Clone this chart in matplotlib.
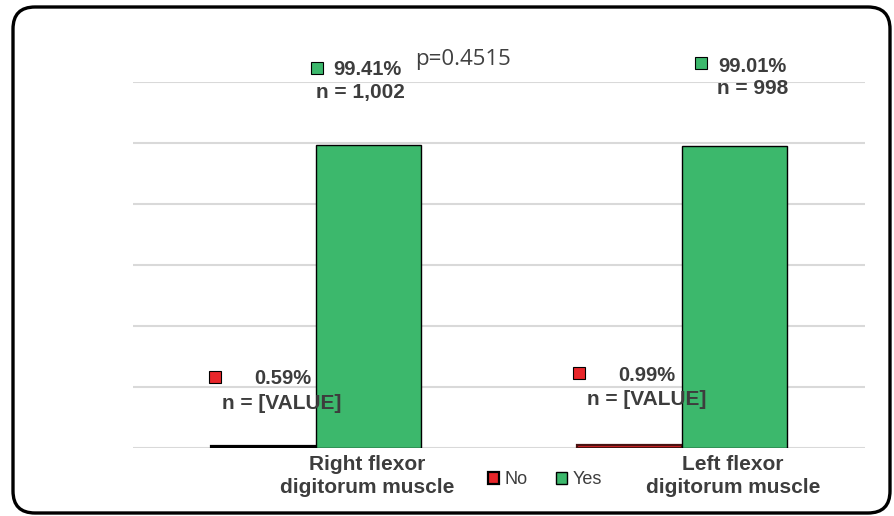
import matplotlib
matplotlib.use('Agg')
import numpy as np
import matplotlib.pyplot as plt
from matplotlib.patches import FancyBboxPatch
from matplotlib.transforms import IdentityTransform, offset_copy

categories = ['Right flexor\ndigitorum muscle', 'Left flexor\ndigitorum muscle']
no_pct = [0.59, 0.99]
yes_pct = [99.41, 99.01]
no_n = ['[VALUE]', '[VALUE]']
yes_n = ['1,002', '998']
p_text = 'p=0.4515'

# label offsets in pixels from bar centre/top: (marker dx, dy, text dx, dy, n dx, dy)
no_offsets = [(-48, 69, 19, 68, 18, 43), (-50, 72, 17, 69, 17, 45)]
yes_offsets = [(-52, 77, -1, 75, -8, 52), (-34, 83, 18, 80, 18, 58)]

red = '#e8262a'
green = '#3cb86c'
txt = '#3d3d3d'

fig = plt.figure(figsize=(8.95, 5.16), dpi=100)
ax = fig.add_axes([133 / 895, 68 / 516, 732 / 895, 366 / 516])

x = np.arange(len(categories))
w = 0.287
bars_no = ax.bar(x - w / 2, no_pct, w, color=red, edgecolor=['black', '#4a1212'],
                 linewidth=1.6, label='No', zorder=3)
bars_yes = ax.bar(x + w / 2, yes_pct, w, color=green, edgecolor='black',
                  linewidth=1.0, label='Yes', zorder=3)

ax.set_xlim(-0.5, 1.5)
ax.set_ylim(0, 120)
ax.set_yticks(np.arange(0, 121, 20))
ax.yaxis.grid(True, color='#d9d9d9', linewidth=1.5)
ax.set_axisbelow(True)
ax.tick_params(axis='y', length=0, labelleft=False)
for s in ax.spines.values():
    s.set_visible(False)
ax.set_xticks(x + w / 2 - 0.005)
ax.set_xticklabels(categories, fontsize=15, fontweight='bold', color=txt,
                   family='Liberation Sans', linespacing=1.25)
ax.tick_params(axis='x', length=0, pad=5)


def label(xc, h, color, pct, n, off):
    mdx, mdy, tdx, tdy, ndx, ndy = off
    tr = offset_copy(ax.transData, fig=fig, x=mdx, y=mdy, units='dots')
    ax.plot([xc], [h], marker='s', markersize=8, color=color,
            markeredgecolor='black', markeredgewidth=0.8, transform=tr,
            clip_on=False, zorder=5)
    ax.annotate(f'{pct:.2f}%', (xc, h), xytext=(tdx, tdy), textcoords='offset pixels',
                ha='center', va='center', fontsize=14.5, fontweight='bold',
                color=txt, family='Liberation Sans', zorder=6)
    ax.annotate(f'n = {n}', (xc, h), xytext=(ndx, ndy), textcoords='offset pixels',
                ha='center', va='center', fontsize=15, fontweight='bold',
                color=txt, family='Liberation Sans', zorder=6)


for i in range(len(categories)):
    label(x[i] - w / 2, no_pct[i], red, no_pct[i], no_n[i], no_offsets[i])
    label(x[i] + w / 2, yes_pct[i], green, yes_pct[i], yes_n[i], yes_offsets[i])

fig.text(415 / 895, 1 - 60 / 516, p_text, fontsize=16, color='#404040',
         family='Open Sans', ha='left', va='center')

fig.legend(handles=[bars_no, bars_yes], labels=['No', 'Yes'], ncol=2,
           loc='center', bbox_to_anchor=(545 / 895, 1 - 480 / 516),
           frameon=False, handlelength=0.6, handleheight=0.6,
           handletextpad=0.3, columnspacing=1.6, labelcolor=txt,
           prop={'family': 'Liberation Sans', 'size': 13})

frame = FancyBboxPatch((13, 3), 877, 506, boxstyle='round,pad=0,rounding_size=22',
                       transform=IdentityTransform(), facecolor='none',
                       edgecolor='black', linewidth=2.4, zorder=10)
fig.patches.append(frame)

fig.savefig('out.png', dpi=100)
